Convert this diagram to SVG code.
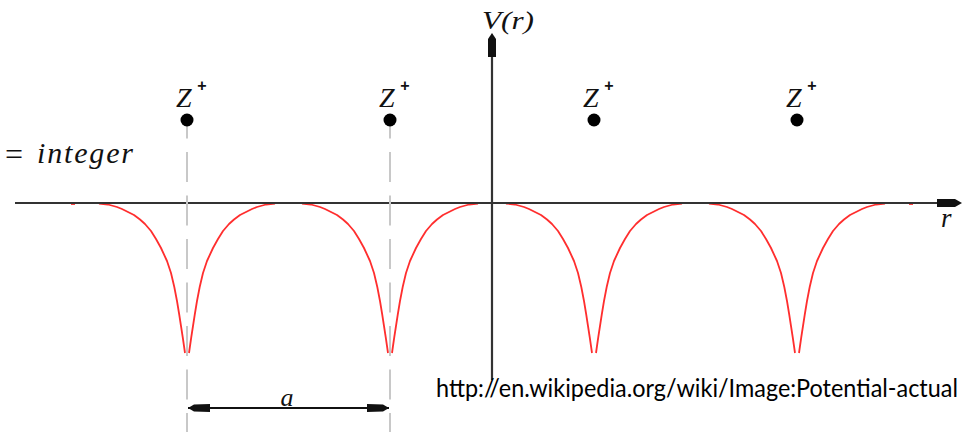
<svg xmlns="http://www.w3.org/2000/svg" xmlns:xlink="http://www.w3.org/1999/xlink" width="969" height="432" viewBox="0 0 969 432">
<style>
  .axis { stroke: #333; stroke-width: 2.2; fill: none; }
  .head { fill: #111; stroke: none; }
  .guide { stroke: #c8c8c8; stroke-width: 2; stroke-dasharray: 30 13.5; fill: none; }
  .curve { stroke: #ff2e2e; stroke-width: 1.8; fill: none; stroke-linejoin: round; }
  .ion { fill: #000; }
  .it { font-family: "Liberation Serif", "DejaVu Serif", serif; font-style: italic; fill: #111; }
  .sup { font-family: "Liberation Sans", "DejaVu Sans", sans-serif; font-weight: bold; fill: #111; }
  .url { font-family: Lato, "Liberation Sans", sans-serif; fill: #000; }
  .dim { stroke: #111; stroke-width: 2; fill: none; }
</style>
<defs>
  <path id="well" d="M-88,203.5 L-79,204.5 L-70,207 L-65,209 L-59,212 L-53,215 L-47,219.5 L-42,224 L-36,231 L-31,239 L-26,248 L-20,261 L-16,273 L-12.7,287 L-10,301 L-7.7,315 L-6,326 L-4.3,337 L-3,346 L-2,353 M2,353 L3,346 L4.3,337 L6,326 L7.7,315 L10,301 L12.7,287 L16,273 L20,261 L26,248 L31,239 L36,231 L42,224 L47,219.5 L53,215 L59,212 L65,209 L70,207 L79,204.5 L88,203.5"/>
</defs>
<rect width="969" height="432" fill="#fff"/>

<g id="potential">
  <use xlink:href="#well" href="#well" x="187" class="curve"/>
  <use xlink:href="#well" href="#well" x="390" class="curve"/>
  <use xlink:href="#well" href="#well" x="594" class="curve"/>
  <use xlink:href="#well" href="#well" x="797" class="curve"/>
  <line x1="71" y1="204" x2="75" y2="204" class="curve"/>
  <line x1="909" y1="204" x2="913" y2="204" class="curve"/>
</g>

<g id="axes">
  <line x1="15" y1="203" x2="958" y2="203" class="axis"/>
  <polygon class="head" points="962,203 955,199 937,199 937,207 955,207"/>
  <line x1="492" y1="380" x2="492" y2="38" class="axis"/>
  <polygon class="head" points="492,33 496,39 496,57 488,57 488,39"/>
  <text class="it" x="482" y="29" font-size="25" textLength="52" lengthAdjust="spacingAndGlyphs">V(r)</text>
  <text class="it" x="941" y="227" font-size="27">r</text>
</g>

<g id="connectors">
  <line x1="187" y1="126" x2="187" y2="432" class="guide" stroke-dashoffset="17.5"/>
  <line x1="390" y1="126" x2="390" y2="432" class="guide" stroke-dashoffset="17.5"/>
  <g id="spacing-a">
    <line x1="188" y1="408" x2="389" y2="408" class="dim"/>
    <polygon class="head" points="188,408 194,404.5 210,404 210,412 194,411.5"/>
    <polygon class="head" points="389,408 383,404.5 367,404 367,412 383,411.5"/>
    <text class="it" x="287" y="406" font-size="26" text-anchor="middle">a</text>
  </g>
</g>

<g id="ion1">
  <circle class="ion" cx="187" cy="120" r="6.5"/>
  <text class="it" x="176" y="107" font-size="28">Z</text>
  <text class="sup" x="202" y="91" font-size="16" text-anchor="middle">+</text>
</g>
<g id="ion2">
  <circle class="ion" cx="390" cy="120" r="6.5"/>
  <text class="it" x="379" y="107" font-size="28">Z</text>
  <text class="sup" x="405" y="91" font-size="16" text-anchor="middle">+</text>
</g>
<g id="ion3">
  <circle class="ion" cx="594" cy="120" r="6.5"/>
  <text class="it" x="583" y="107" font-size="28">Z</text>
  <text class="sup" x="609" y="91" font-size="16" text-anchor="middle">+</text>
</g>
<g id="ion4">
  <circle class="ion" cx="797" cy="120" r="6.5"/>
  <text class="it" x="786" y="107" font-size="28">Z</text>
  <text class="sup" x="812" y="91" font-size="16" text-anchor="middle">+</text>
</g>

<g id="integer-label">
  <text x="5" y="165" font-size="32" font-family="Liberation Serif, DejaVu Serif, serif" fill="#111">=</text>
  <text class="it" x="37" y="163" font-size="30" textLength="96" lengthAdjust="spacing">integer</text>
</g>

<g id="source">
  <text class="url" x="436" y="397" font-size="25" textLength="522" lengthAdjust="spacingAndGlyphs">http://en.wikipedia.org/wiki/Image:Potential-actual</text>
</g>
</svg>
